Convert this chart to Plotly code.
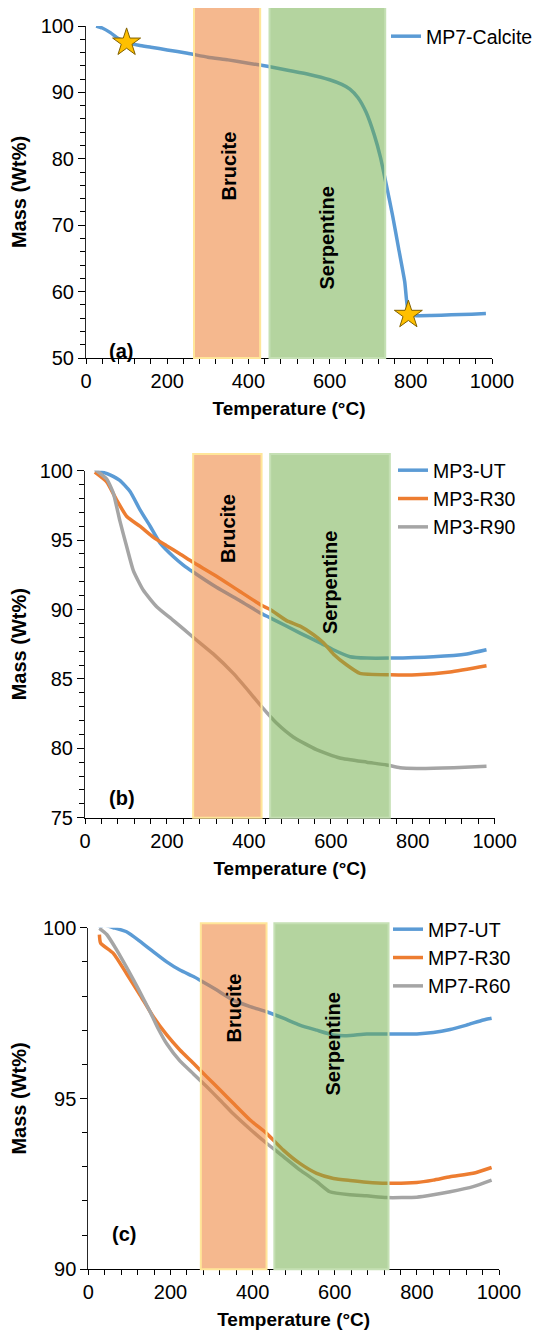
import plotly.graph_objects as go

# page draws the figure 8 px in from the top-left corner (browser body margin)
OFF = 8
W, H = 544 - OFF, 1334 - OFF

# ---------------- data ----------------
# Panel (a)
a_temp = [25, 40, 60, 80, 100, 130, 160, 200, 250, 300, 350, 400, 450, 500, 550, 600,
          630, 650, 670, 690, 710, 725, 740, 755, 770, 785, 795, 810, 850, 900, 950, 985]
a_calcite = [100.0, 99.7, 99.0, 98.1, 97.5, 97.1, 96.8, 96.4, 95.9, 95.3, 94.9, 94.4, 93.9,
             93.3, 92.7, 91.9, 91.2, 90.5, 89.2, 87.0, 83.6, 80.3, 76.0, 71.5, 66.5, 61.5,
             56.7, 56.4, 56.4, 56.5, 56.6, 56.7]
a_star_temp = [100, 794]
a_star_mass = [97.5, 56.5]

# Panel (b)
b_ut_temp = [24, 61, 85, 110, 134, 159, 183, 216, 240, 264, 321, 380, 431, 452, 525, 574,
             606, 647, 688, 745, 850, 932, 980]
b_ut = [100.1, 99.7, 99.3, 98.5, 97.2, 96.0, 94.8, 93.8, 93.2, 92.7, 91.6, 90.6, 89.7,
        89.4, 88.3, 87.6, 87.1, 86.6, 86.5, 86.5, 86.6, 86.8, 87.1]
b_r30_temp = [24, 53, 77, 102, 134, 167, 199, 232, 264, 321, 378, 431, 452, 492, 525, 557,
              582, 606, 639, 671, 745, 810, 891, 980]
b_r30 = [99.9, 99.2, 97.9, 96.7, 96.0, 95.2, 94.6, 94.0, 93.4, 92.4, 91.3, 90.3, 90.0, 89.2,
         88.8, 88.2, 87.6, 86.8, 86.0, 85.4, 85.3, 85.3, 85.5, 85.95]
b_r90_temp = [24, 53, 69, 85, 102, 118, 142, 175, 216, 264, 313, 362, 403, 431, 468, 509,
              565, 622, 688, 736, 769, 810, 900, 980]
b_r90 = [100.1, 99.4, 98.4, 96.4, 94.5, 92.8, 91.4, 90.2, 89.2, 88.0, 86.8, 85.4, 84.0,
         83.0, 81.8, 80.8, 79.9, 79.3, 79.0, 78.8, 78.6, 78.55, 78.6, 78.7]

# Panel (c)
c_ut_temp = [27, 37, 61, 93, 126, 158, 191, 223, 256, 274, 312, 353, 394, 434, 475, 515,
             556, 597, 629, 678, 726, 800, 840, 881, 921, 962, 982]
c_ut = [99.98, 100.08, 100.0, 99.88, 99.6, 99.3, 99.0, 98.76, 98.57, 98.45, 98.18, 97.88,
        97.69, 97.54, 97.35, 97.15, 97.0, 96.86, 96.84, 96.89, 96.89, 96.89, 96.93, 97.02,
        97.15, 97.3, 97.35]
c_r30_temp = [27, 30, 61, 93, 126, 158, 191, 223, 256, 288, 321, 353, 394, 434, 475, 515,
              556, 597, 637, 678, 726, 800, 840, 881, 937, 982]
c_r30 = [99.8, 99.55, 99.25, 98.66, 98.03, 97.4, 96.86, 96.42, 96.03, 95.64, 95.25, 94.86,
         94.37, 93.98, 93.49, 93.1, 92.81, 92.66, 92.6, 92.55, 92.52, 92.54, 92.61, 92.71,
         92.81, 92.98]
c_r60_temp = [27, 45, 69, 95, 122, 150, 170, 191, 223, 256, 288, 321, 353, 394, 434, 475,
              515, 556, 588, 637, 678, 726, 800, 840, 881, 937, 982]
c_r60 = [99.98, 99.8, 99.35, 98.8, 98.2, 97.55, 97.05, 96.6, 96.1, 95.72, 95.35, 94.95,
         94.55, 94.1, 93.69, 93.3, 92.91, 92.57, 92.27, 92.18, 92.15, 92.1, 92.11, 92.18,
         92.27, 92.42, 92.61]

brucite_range = {"a": [266, 429], "b": [264, 431], "c": [274, 434]}
serpentine_range = {"a": [452, 737], "b": [452, 744], "c": [453, 731]}

# ---------------- style ----------------
BLUE, ORANGE, GRAY = "#5B9BD5", "#ED7D31", "#A5A5A5"
FONT = "Arial, Liberation Sans, sans-serif"
LW = 3.5

def px_x(p):
    return (p - OFF) / W

def px_y(p):
    return 1 - (p - OFF) / H

fig = go.Figure()

def add_line(x, y, name, color, xa, ya, legend):
    fig.add_trace(go.Scatter(x=x, y=y, name=name, mode="lines",
                             line=dict(color=color, width=LW, shape="spline", smoothing=0.5),
                             xaxis=xa, yaxis=ya, legend=legend))

add_line(a_temp, a_calcite, "MP7-Calcite", BLUE, "x", "y", "legend")
fig.add_trace(go.Scatter(x=a_star_temp, y=a_star_mass, mode="markers", showlegend=False,
                         marker=dict(symbol="star", size=21, color="#FFC000",
                                     line=dict(color="#806000", width=1)),
                         xaxis="x", yaxis="y"))

add_line(b_ut_temp, b_ut, "MP3-UT", BLUE, "x2", "y2", "legend2")
add_line(b_r30_temp, b_r30, "MP3-R30", ORANGE, "x2", "y2", "legend2")
add_line(b_r90_temp, b_r90, "MP3-R90", GRAY, "x2", "y2", "legend2")

add_line(c_ut_temp, c_ut, "MP7-UT", BLUE, "x3", "y3", "legend3")
add_line(c_r30_temp, c_r30, "MP7-R30", ORANGE, "x3", "y3", "legend3")
add_line(c_r60_temp, c_r60, "MP7-R60", GRAY, "x3", "y3", "legend3")

# panel geometry in window pixels: (left, right, top, bottom)
panels = {
    "a": (86, 492, 26, 358),
    "b": (85, 494.7, 470.7, 817.7),
    "c": (88.3, 499, 927.7, 1269.3),
}
yranges = {"a": [50, 100], "b": [75, 100], "c": [90, 100]}
ydticks = {"a": (10, 2), "b": (5, 1), "c": (5, 1)}
rect_top = {"a": 7, "b": 454, "c": 923.3}
suffix = {"a": "", "b": "2", "c": "3"}

layout = dict(width=W, height=H, margin=dict(l=0, r=0, t=0, b=0, autoexpand=False),
              plot_bgcolor="white", paper_bgcolor="white",
              font=dict(family=FONT, color="#000000", size=20),
              shapes=[], annotations=[])

for k, (l, r, t, b) in panels.items():
    s = suffix[k]
    layout["xaxis" + s] = dict(
        domain=[px_x(l), px_x(r)], range=[0, 1000], anchor="y" + s, automargin=False,
        showline=True, linecolor="#000000", linewidth=1, showgrid=False, zeroline=False,
        ticks="outside", ticklen=5, tickcolor="#000000", dtick=200, tick0=0,
        minor=dict(dtick=40, ticks="outside", ticklen=5, tickcolor="#000000", showgrid=False),
        tickfont=dict(size=20, family=FONT, color="#000000"),
        title=dict(text="<b>Temperature (°C)</b>", font=dict(size=19, family=FONT), standoff=10),
    )
    maj, mnr = ydticks[k]
    layout["yaxis" + s] = dict(
        domain=[px_y(b), px_y(t)], range=yranges[k], anchor="x" + s, automargin=False,
        showline=True, linecolor="#262626", linewidth=1, showgrid=False, zeroline=False,
        ticks="outside", ticklen=7, tickcolor="#000000", dtick=maj,
        minor=dict(dtick=mnr, ticks="outside", ticklen=5, tickcolor="#000000", showgrid=False),
        tickfont=dict(size=20, family=FONT, color="#000000"),
        title=dict(text="<b>Mass (Wt%)</b>", font=dict(size=20, family=FONT), standoff=10),
    )
    ytop = 1 + (t - rect_top[k]) / (b - t)
    br = brucite_range[k]
    sp = serpentine_range[k]
    layout["shapes"].append(dict(type="rect", xref="x" + s, yref="y" + s + " domain",
                                 x0=br[0], x1=br[1], y0=0, y1=ytop, layer="above",
                                 fillcolor="rgba(237,125,49,0.55)",
                                 line=dict(color="#FFE699", width=2)))
    layout["shapes"].append(dict(type="rect", xref="x" + s, yref="y" + s + " domain",
                                 x0=sp[0], x1=sp[1], y0=0, y1=ytop, layer="above",
                                 fillcolor="rgba(112,173,71,0.52)",
                                 line=dict(color="#C5E0B4", width=2)))

# labels (window pixel positions)
labels = [
    ("Brucite", 228, 130), ("Serpentine", 327, 185),
    ("Brucite", 228, 529), ("Serpentine", 330, 583),
    ("Brucite", 233, 1045), ("Serpentine", 332, 1098),
]
for txt, x, y in labels:
    layout["annotations"].append(dict(text="<b>%s</b>" % txt, x=px_x(x), y=px_y(y),
                                      xref="paper", yref="paper", showarrow=False,
                                      textangle=-90, font=dict(size=20, family=FONT, color="#000000")))
for txt, x, y in [("(a)", 107, 338), ("(b)", 107, 798), ("(c)", 110, 1247)]:
    layout["annotations"].append(dict(text="<b>%s</b>" % txt, x=px_x(x), y=px_y(y),
                                      xref="paper", yref="paper", showarrow=False,
                                      font=dict(size=20, family=FONT, color="#000000")))

leg_common = dict(bgcolor="rgba(0,0,0,0)", borderwidth=0, xanchor="left", yanchor="top",
                  font=dict(size=19.5, family=FONT, color="#000000"), tracegroupgap=0)
layout["legend"] = dict(x=px_x(386), y=px_y(17), **leg_common)
layout["legend2"] = dict(x=px_x(393), y=px_y(451), **leg_common)
layout["legend3"] = dict(x=px_x(388), y=px_y(910), **leg_common)

fig.update_layout(**layout)
fig.write_html("out.html")
